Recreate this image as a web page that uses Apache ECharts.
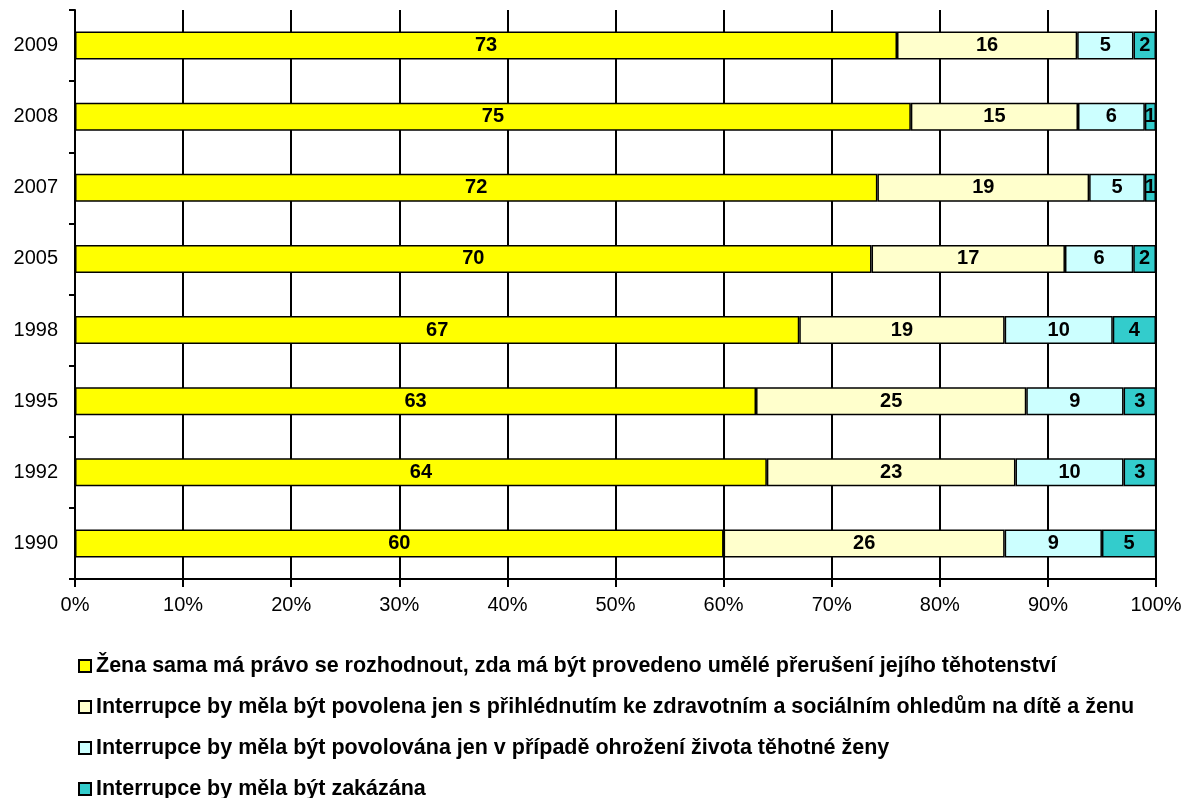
<!DOCTYPE html>
<html><head><meta charset="utf-8">
<script src="https://cdn.jsdelivr.net/npm/echarts@6/dist/echarts.min.js"></script>
<style>html,body{margin:0;padding:0;background:#fff}#c{width:1186px;height:798px}</style>
</head><body><div id="c"></div>
<script>
const years = ['1990','1992','1995','1998','2005','2007','2008','2009'];
const seriesNames = [
  'Žena sama má právo se rozhodnout, zda má být provedeno umělé přerušení jejího těhotenství',
  'Interrupce by měla být povolena jen s přihlédnutím ke zdravotním a sociálním ohledům na dítě a ženu',
  'Interrupce by měla být povolována jen v případě ohrožení života těhotné ženy',
  'Interrupce by měla být zakázána'
];
const rightToDecide = [60, 64, 63, 67, 70, 72, 75, 73];
const conditional   = [26, 23, 25, 19, 17, 19, 15, 16];
const lifeThreat    = [9, 10, 9, 10, 6, 5, 6, 5];
const banned        = [5, 3, 3, 4, 2, 1, 1, 2];
const colors = ['#FFFF00', '#FFFFCC', '#CCFFFF', '#33CCCC'];

const raw = [rightToDecide, conditional, lifeThreat, banned];
const totals = years.map((_, i) => raw.reduce((s, a) => s + a[i], 0));
const FONT = 'Liberation Sans, Arial, sans-serif';

const chart = echarts.init(document.getElementById('c'));
chart.setOption({
  animation: false,
  backgroundColor: '#fff',
  grid: { left: 75, right: 30, top: 10, bottom: 219 },
  xAxis: {
    type: 'value', min: 0, max: 100, interval: 10,
    axisLine: { show: true, lineStyle: { color: '#000', width: 2 } },
    axisTick: { show: true, length: 8, lineStyle: { color: '#000', width: 2 } },
    axisLabel: { formatter: '{value}%', color: '#000', fontSize: 20, fontFamily: FONT, margin: 16 },
    splitLine: { show: true, lineStyle: { color: '#000', width: 2 } }
  },
  yAxis: {
    type: 'category', data: years,
    axisLine: { show: true, lineStyle: { color: '#000', width: 2 } },
    axisTick: { show: true, length: 6, lineStyle: { color: '#000', width: 2 } },
    axisLabel: { color: '#000', fontSize: 20, fontFamily: FONT, margin: 17 },
    splitLine: { show: false }
  },
  legend: {
    orient: 'vertical', left: 78, top: 655, height: 150, padding: 0,
    itemWidth: 12, itemHeight: 12, itemGap: 19, itemTextGap: 6,
    icon: 'rect',
    textStyle: { color: '#000', fontSize: 21.5, fontWeight: 'bold', fontFamily: FONT },
    data: seriesNames
  },
  series: raw.map((arr, k) => ({
    name: seriesNames[k],
    type: 'bar',
    stack: 'total',
    barWidth: 28,
    itemStyle: { color: colors[k], borderColor: '#000', borderWidth: 1.5 },
    label: {
      show: true, position: 'inside', color: '#000', fontSize: 20, fontWeight: 'bold', fontFamily: FONT,
      formatter: p => String(arr[p.dataIndex])
    },
    data: arr.map((v, i) => v / totals[i] * 100)
  }))
});
</script></body></html>
